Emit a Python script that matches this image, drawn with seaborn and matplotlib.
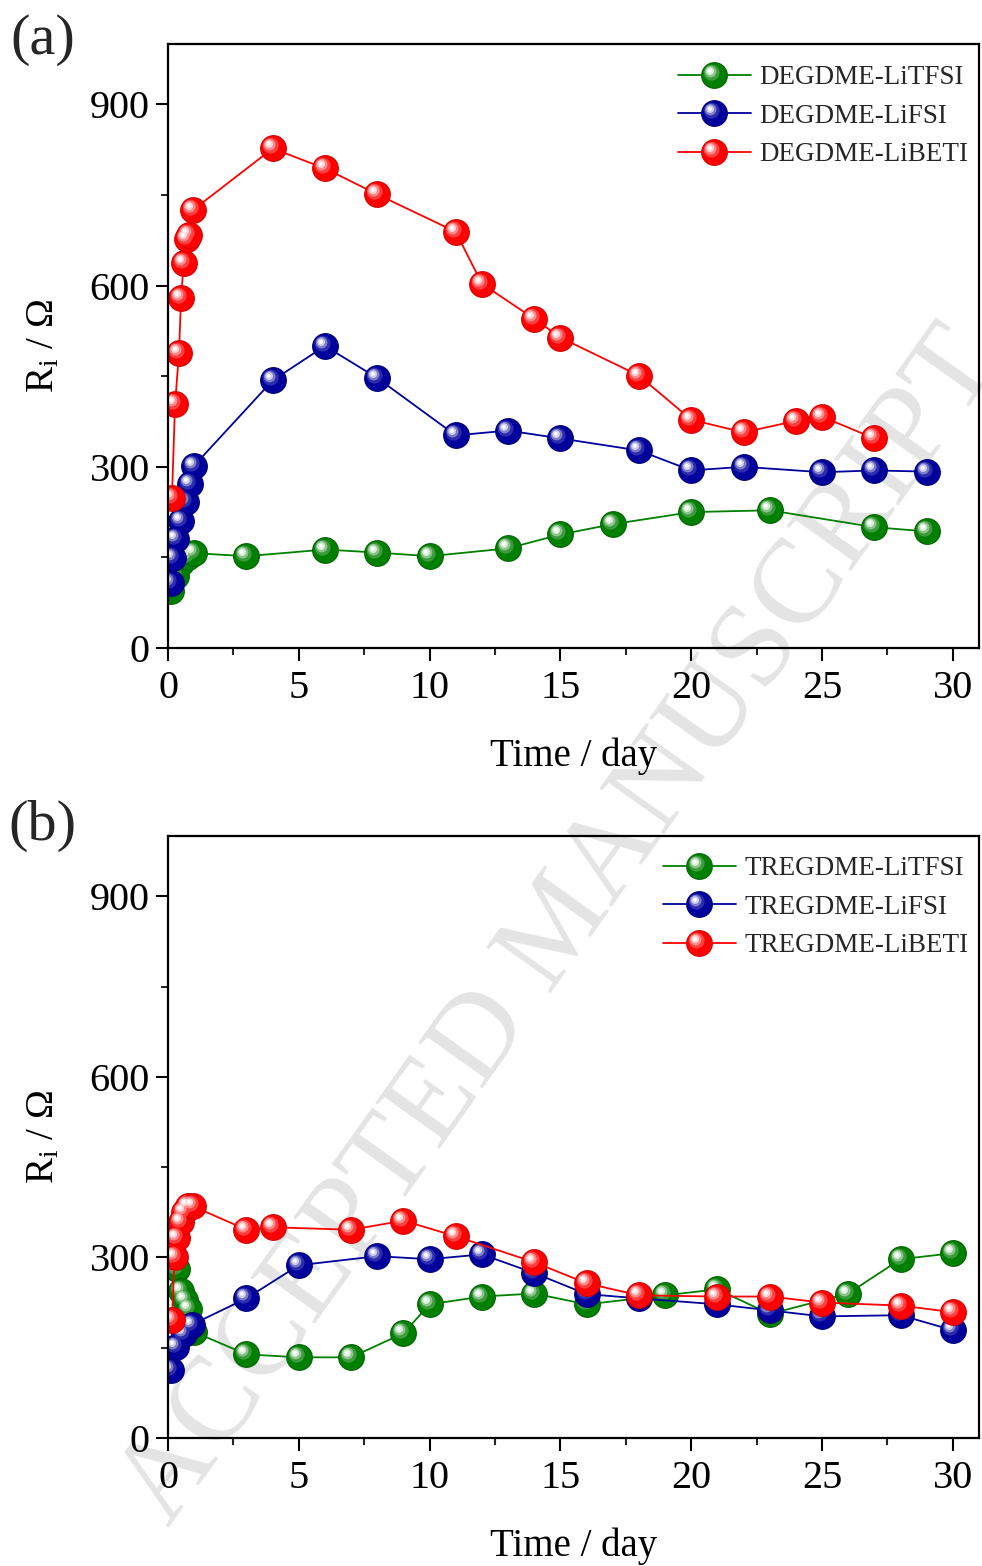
import numpy as np
import pandas as pd
import matplotlib
matplotlib.use("Agg")
import matplotlib.pyplot as plt
import seaborn as sns
from matplotlib.path import Path
from matplotlib.lines import Line2D
from matplotlib.ticker import MultipleLocator
from matplotlib.legend_handler import HandlerTuple

# ---- data: interfacial resistance vs storage time ----
deg_tfsi_t = [0.1, 0.3, 0.5, 0.75, 1.0, 3, 6, 8, 10, 13, 15, 17, 20, 23, 27, 29]
deg_tfsi_r = [95, 120, 140, 150, 157, 152, 163, 158, 152, 165, 188, 205, 225, 228, 200, 193]

deg_fsi_t = [0.1, 0.2, 0.3, 0.5, 0.7, 0.85, 1.0, 4, 6, 8, 11, 13, 15, 18, 20, 22, 25, 27, 29]
deg_fsi_r = [107, 149, 181, 211, 241, 272, 302, 443, 500, 447, 352, 360, 347, 327, 294, 300, 291, 294, 292]

deg_beti_t = [0.15, 0.27, 0.42, 0.5, 0.6, 0.72, 0.8, 0.95, 4, 6, 8, 11, 12, 14, 15, 18, 20, 22, 24, 25, 27]
deg_beti_r = [248, 404, 489, 580, 637, 677, 683, 725, 827, 794, 751, 689, 603, 545, 514, 451, 378, 357, 376, 383, 347]

tre_tfsi_t = [0.15, 0.35, 0.5, 0.65, 0.8, 1.0, 3, 5, 7, 9, 10, 12, 14, 16, 19, 21, 23, 26, 28, 30]
tre_tfsi_r = [290, 280, 245, 230, 215, 176, 139, 134, 134, 174, 222, 235, 240, 222, 237, 247, 206, 240, 297, 307]

tre_fsi_t = [0.1, 0.3, 0.6, 0.9, 3, 5, 8, 10, 12, 14, 16, 18, 21, 23, 25, 28, 30]
tre_fsi_r = [113, 151, 172, 188, 232, 287, 302, 297, 305, 274, 239, 232, 222, 212, 202, 204, 179]

tre_beti_t = [0.15, 0.25, 0.35, 0.5, 0.6, 0.75, 0.95, 3, 4, 7, 9, 11, 14, 16, 18, 21, 23, 25, 28, 30]
tre_beti_r = [196, 300, 333, 358, 375, 385, 385, 346, 350, 346, 361, 335, 292, 257, 237, 235, 235, 225, 220, 209]

panel_a = [("DEGDME-LiTFSI", deg_tfsi_t, deg_tfsi_r),
           ("DEGDME-LiFSI", deg_fsi_t, deg_fsi_r),
           ("DEGDME-LiBETI", deg_beti_t, deg_beti_r)]
panel_b = [("TREGDME-LiTFSI", tre_tfsi_t, tre_tfsi_r),
           ("TREGDME-LiFSI", tre_fsi_t, tre_fsi_r),
           ("TREGDME-LiBETI", tre_beti_t, tre_beti_r)]

# colour scheme per salt: (line/body, dark edge, highlight shades)
styles = [
    ("#008000", "#006400", ["#3d9a3d", "#8cc48c", "#d9eed9", "#ffffff"]),
    ("#00009c", "#000078", ["#2c2cae", "#7f7fc8", "#d0d0ec", "#ffffff"]),
    ("#ff0000", "#d80000", ["#ff4040", "#ff8c8c", "#ffd6d6", "#ffffff"]),
]

sns.set_theme(style="white")
plt.rcParams["font.family"] = ["Liberation Serif", "DejaVu Serif"]
plt.rcParams["mathtext.fontset"] = "custom"
plt.rcParams["mathtext.rm"] = "Liberation Serif"
plt.rcParams["mathtext.it"] = "Liberation Serif:italic"

MS = 18.5  # marker diameter, points


def offset_circle(r, c):
    """Circle of radius r centred up-left at (-c, c), as a marker path."""
    circ = Path.unit_circle()
    verts = circ.vertices * r + np.array([-c, c])
    return Path(verts, circ.codes)


# highlight layers: (radius fraction, offset fraction)
hl_layers = [(0.62, 0.22), (0.45, 0.30), (0.30, 0.34), (0.15, 0.36)]


def sphere_handles(color, edge, shades, ms):
    arts = [Line2D([], [], color=color, lw=1.3, marker="o", markersize=ms,
                   markerfacecolor=color, markeredgecolor=edge, markeredgewidth=0.8)]
    for (r, c), sh in zip(hl_layers, shades):
        arts.append(Line2D([], [], ls="none", marker=offset_circle(r, c),
                           markersize=ms * (r + c), markerfacecolor=sh,
                           markeredgewidth=0))
    return tuple(arts)


def draw_panel(ax, series, leg_anchor):
    ax.set_facecolor("none")
    handles, labels = [], []
    for (name, t, r), (color, edge, shades) in zip(series, styles):
        df = pd.DataFrame({"t": t, "r": r})
        sns.lineplot(data=df, x="t", y="r", ax=ax, sort=False, color=color,
                     lw=1.3, marker="o", markersize=MS, markerfacecolor=color,
                     markeredgecolor=edge, markeredgewidth=0.8, legend=False)
        for (rad, off), sh in zip(hl_layers, shades):
            ax.plot(df["t"], df["r"], ls="none", marker=offset_circle(rad, off),
                    markersize=MS * (rad + off), markerfacecolor=sh,
                    markeredgewidth=0)
        handles.append(sphere_handles(color, edge, shades, MS))
        labels.append(name)

    ax.set_xlim(0, 31)
    ax.set_ylim(0, 1000)
    ax.xaxis.set_major_locator(MultipleLocator(5))
    ax.xaxis.set_minor_locator(MultipleLocator(2.5))
    ax.yaxis.set_major_locator(MultipleLocator(300))
    ax.yaxis.set_minor_locator(MultipleLocator(150))
    ax.tick_params(which="major", direction="out", length=9, width=1.5,
                   labelsize=29, color="black", labelcolor="black", pad=4,
                   bottom=True, left=True, top=False, right=False)
    ax.tick_params(axis="x", which="major", pad=7)
    ax.tick_params(which="minor", direction="out", length=5, width=1.5,
                   bottom=True, left=True, top=False, right=False)
    for sp in ax.spines.values():
        sp.set_visible(True)
        sp.set_color("black")
        sp.set_linewidth(1.6)
    ax.set_xlabel("Time / day", fontsize=28, color="black", labelpad=22)
    ax.set_ylabel(r"R$_\mathregular{i}$ / Ω", fontsize=28, color="black", labelpad=20)
    ax.grid(False)
    ax.legend(handles, labels, handler_map={tuple: HandlerTuple(ndivide=1, pad=0)},
              loc="upper right", bbox_to_anchor=leg_anchor, frameon=False,
              fontsize=19.5, handlelength=2.7, handletextpad=0.3, labelspacing=0.5,
              borderaxespad=0.3)


fig = plt.figure(figsize=(9.82, 15.66), dpi=100)
W, H = 982, 1566
ax_a = fig.add_axes([168 / W, 1 - 648 / H, (979 - 168) / W, (648 - 44) / H])
ax_b = fig.add_axes([168 / W, 1 - 1438 / H, (979 - 168) / W, (1438 - 836) / H])

draw_panel(ax_a, panel_a, (1.01, 0.996))
draw_panel(ax_b, panel_b, (1.01, 0.998))

fig.text(10 / W, 1 - 40 / H, "(a)", fontsize=42, va="center", ha="left")
fig.text(8 / W, 1 - 826 / H, "(b)", fontsize=42, va="center", ha="left")

# diagonal watermark behind the plots
fig.text(562 / W, 1 - 928 / H, "ACCEPTED MANUSCRIPT", fontsize=87, color="#e4e4e4",
         rotation=54.5, ha="center", va="center", rotation_mode="anchor", zorder=-1)

fig.savefig("out.png", dpi=100)
